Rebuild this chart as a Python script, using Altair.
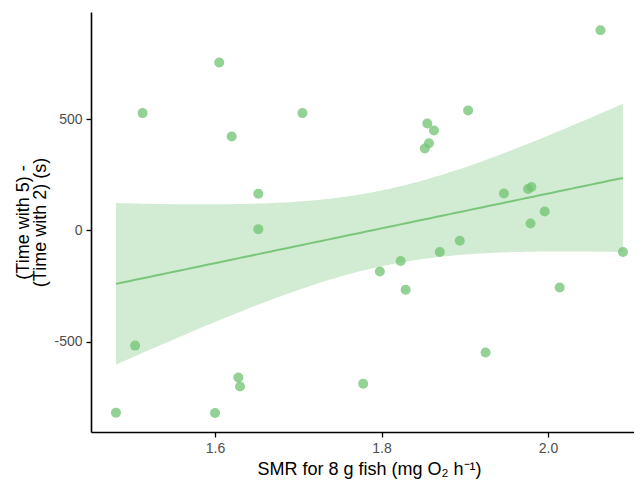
import altair as alt
import numpy as np
import pandas as pd

smr = [1.513, 1.605, 1.705, 1.620, 1.652, 1.652, 1.504, 1.628, 1.630, 1.481,
       1.600, 1.778, 1.798, 1.823, 1.829, 1.870, 1.894, 1.925, 2.014, 2.090,
       2.063, 1.904, 1.855, 1.863, 1.857, 1.852, 1.947, 1.976, 1.980, 1.996,
       1.979]
diff = [527, 754, 527, 422, 165, 6, -517, -660, -701, -818,
        -820, -688, -184, -137, -266, -97, -46, -548, -256, -97,
        899, 539, 480, 449, 392, 368, 166, 186, 195, 85,
        31]

x_ticks = [1.6, 1.8, 2.0]
y_ticks = [-500, 0, 500]

pts = pd.DataFrame({"x": smr, "y": diff})

# linear fit with 95% confidence band (as geom_smooth(method="lm"))
xa = np.array(smr)
ya = np.array(diff, dtype=float)
n = len(xa)
b1, b0 = np.polyfit(xa, ya, 1)
resid = ya - (b0 + b1 * xa)
s = np.sqrt(np.sum(resid ** 2) / (n - 2))
sxx = np.sum((xa - xa.mean()) ** 2)
tcrit = 2.045
grid = np.linspace(xa.min(), xa.max(), 80)
fit = b0 + b1 * grid
se = s * np.sqrt(1.0 / n + (grid - xa.mean()) ** 2 / sxx)
band = pd.DataFrame({"x": grid, "fit": fit, "lo": fit - tcrit * se, "hi": fit + tcrit * se})

xs = alt.Scale(domain=[1.451, 2.1033], nice=False, zero=False)
ys = alt.Scale(domain=[-905, 981], nice=False, zero=False)

xax = alt.Axis(values=x_ticks, format=".1f", title="SMR for 8 g fish (mg O₂  h⁻¹)",
               titleX=278, titleY=42, titleBaseline="alphabetic", titleAlign="center")
yax = alt.Axis(values=y_ticks, labelExpr="'' + datum.value",
               title=["(Time with 5) -", "(Time with 2) (s)"],
               titlePadding=4, titleLineHeight=17)

area = alt.Chart(band).mark_area(color="#74c476", opacity=0.32).encode(
    x=alt.X("x:Q", scale=xs, axis=xax),
    y=alt.Y("lo:Q", scale=ys, axis=yax),
    y2="hi:Q",
)
line = alt.Chart(band).mark_line(color="#74c476", strokeWidth=2, opacity=0.95).encode(
    x=alt.X("x:Q", scale=xs),
    y=alt.Y("fit:Q", scale=ys),
)
points = alt.Chart(pts).mark_circle(color="#74c476", opacity=0.78, size=100).encode(
    x=alt.X("x:Q", scale=xs),
    y=alt.Y("y:Q", scale=ys),
)

chart = alt.layer(area, line, points).properties(
    width=543, height=420,
    autosize=alt.AutoSizeParams(type="none"),
    padding={"left": 83, "top": 4, "right": 0, "bottom": 49},
).configure_view(stroke=None).configure_axis(
    grid=False,
    domainColor="black", domainWidth=1.6,
    tickColor="black", tickSize=5, tickWidth=1.3,
    labelColor="#4d4d4d", labelFontSize=14, labelFont="Liberation Sans",
    labelPadding=4,
    titleColor="black", titleFontSize=18, titleFont="Liberation Sans", titleFontWeight="normal",
)

chart.save("out.html", embed_options={"renderer": "svg", "actions": False})
